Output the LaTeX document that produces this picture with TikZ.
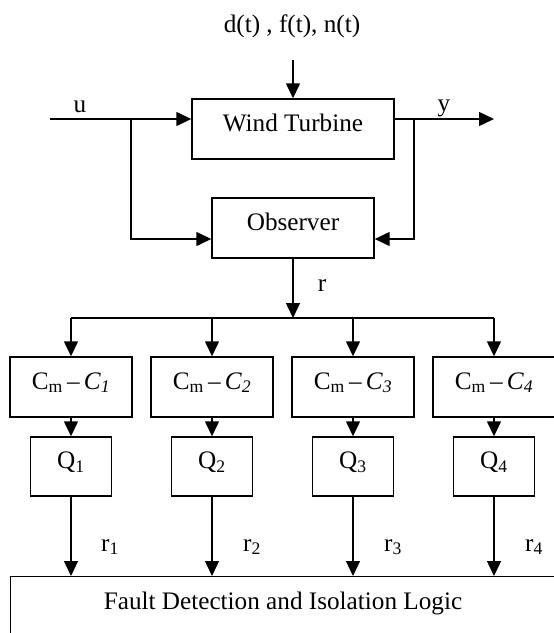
\documentclass[tikz,border=0pt]{standalone}
\usepackage{fontspec}
\setmainfont{Liberation Serif}
\usetikzlibrary{arrows.meta}
\begin{document}
\begin{tikzpicture}[x=1pt,y=-1pt,
  font=\fontsize{25.2}{30}\selectfont,
  line width=1.4pt,
  arr/.style={-{Triangle[length=15pt,width=14pt]}},
  blk/.style={draw, line width=1.4pt, inner sep=0pt, text height=0.7em, text depth=0.25em},
  lbl/.style={anchor=base, inner sep=0pt}]
\useasboundingbox (0,0) rectangle (554,633);
\clip (0,0) rectangle (554,633);
% blocks
\node[blk, minimum width=202pt, minimum height=60pt] (wt) at (293,129) {Wind Turbine};
\node[blk, minimum width=162pt, minimum height=60pt] (obs) at (293,228) {Observer};
\foreach \i/\x in {1/71,2/212,3/353,4/494}{
  \node[blk, minimum width=122pt, minimum height=60pt] (c\i) at (\x,387)
    {C\textsubscript{m}\,–\,\textit{C}\textsubscript{\textit{\i}}};
  \node[blk, minimum width=81pt, minimum height=59pt] (q\i) at (\x,466.5)
    {Q\textsubscript{\i}};
}
\node[draw, line width=1.4pt, minimum width=546pt, minimum height=80pt, anchor=north west] (fdi) at (10,576) {};
\node[lbl] (fdit) at (283,609) {Fault Detection and Isolation Logic};
% labels
\node[lbl] (dl) at (292,32) {d(t) , f(t), n(t)};
\node[lbl] (ul) at (80,112) {u};
\node[lbl] (yl) at (444,111) {y};
\node[lbl] (rl) at (322,291) {r};
\foreach \i/\x in {1/110,2/252,3/393,4/534}{
  \node[lbl] (r\i) at (\x,551) {r\textsubscript{\i}};
}
% coordinates
\coordinate (dtop) at (293,60);
\coordinate (uin) at (50,119);
\coordinate (ub) at (131,119);
\coordinate (ulow) at (131,239);
\coordinate (yout) at (494,119);
\coordinate (yb) at (414,119);
\coordinate (ylow) at (414,239);
\coordinate (bus) at (293,318);
% connectors
\draw[arr] (dtop) -- (wt.north);
\draw[arr] (uin) -- (wt.west |- uin);
\draw[arr] (ub) -- (ulow) -- (obs.west |- ulow);
\draw[arr] (wt.east |- yout) -- (yout);
\draw[arr] (yb) -- (ylow) -- (obs.east |- ylow);
\draw[arr] (obs.south) -- (bus);
\draw (c1.north |- bus) -- (c4.north |- bus);
\foreach \i in {1,2,3,4}{
  \draw[arr] (c\i.north |- bus) -- (c\i.north);
  \draw[arr] (c\i.south) -- (q\i.north);
  \draw[arr] (q\i.south) -- (fdi.north -| q\i.south);
}
\end{tikzpicture}
\end{document}
